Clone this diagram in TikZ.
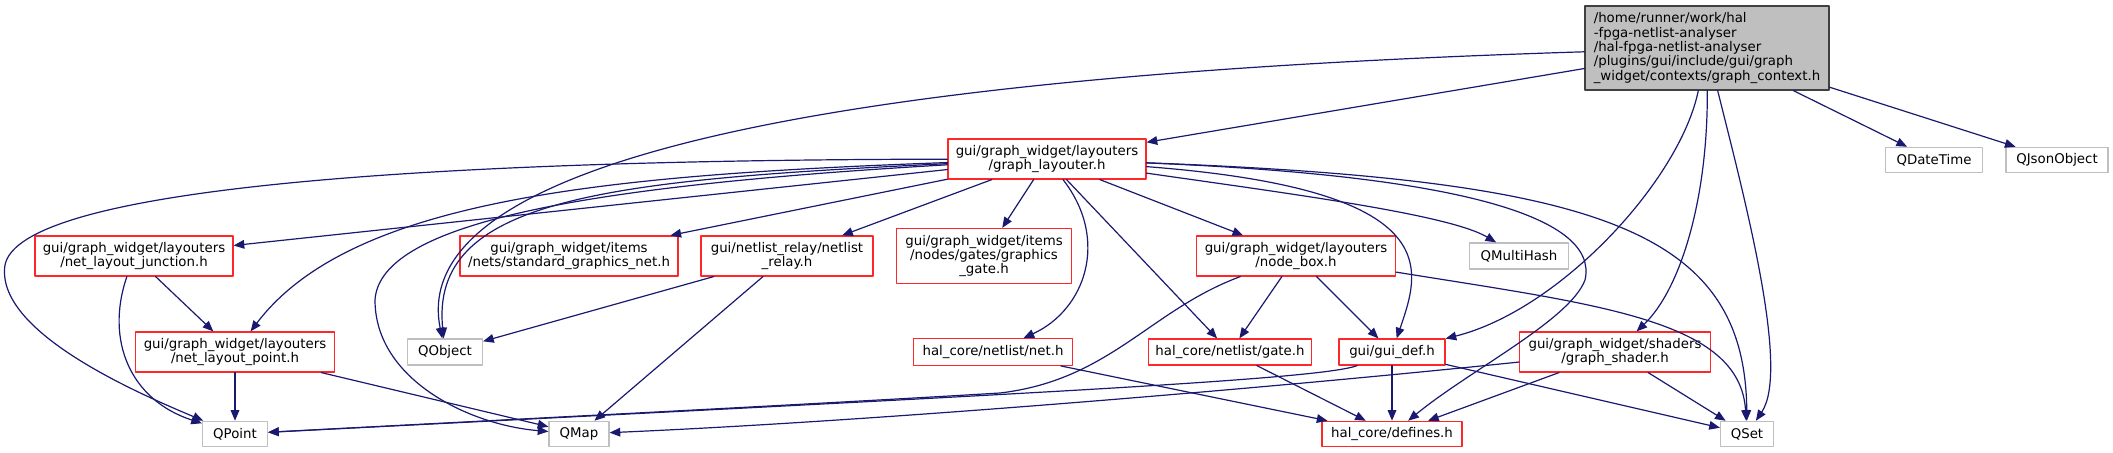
\documentclass[tikz,border=0pt]{standalone}
\usepackage{fontspec}
\setmainfont{DejaVu Sans}
\usetikzlibrary{arrows.meta}
\definecolor{Edge}{RGB}{25,25,112}
\definecolor{Hline}{RGB}{255,40,40}
\definecolor{Qline}{RGB}{191,191,191}
\definecolor{Mfill}{RGB}{191,191,191}
\definecolor{Mline}{RGB}{64,64,64}

\begin{document}
\begin{tikzpicture}[x=0.75pt,y=-0.75pt,line cap=round,line join=round,
  box/.style={rectangle,draw,fill=white,line width=0.9pt,inner sep=0pt,align=center,font=\fontsize{10}{10.8}\selectfont},
  hdr/.style={box,draw=Hline,minimum height=30pt},
  ext/.style={box,draw=Qline,minimum height=19pt},
  dep/.style={draw=Edge,line width=0.9pt,-{Triangle[length=8pt,width=6.5pt]}}]
\path[use as bounding box] (0,0) rectangle (2113,453);
\node[box,fill=Mfill,draw=Mline,align=left,minimum width=183pt,minimum height=63pt] (ctx) at (1707,48) {/home/runner/work/hal\\-fpga-netlist-analyser\\/hal-fpga-netlist-analyser\\/plugins/gui/include/gui/graph\\\_widget/contexts/graph\_context.h};
\node[hdr,minimum width=148.5pt] (layouter) at (1047,159) {gui/graph\_widget/layouters\\/graph\_layouter.h};
\node[ext,minimum width=72.75pt] (qdatetime) at (1934,160) {QDateTime};
\node[ext,minimum width=76.5pt] (qjson) at (2057,160) {QJsonObject};
\node[hdr,minimum width=148.5pt] (junction) at (134,256) {gui/graph\_widget/layouters\\/net\_layout\_junction.h};
\node[hdr,minimum width=163.5pt] (stdnet) at (569,256) {gui/graph\_widget/items\\/nets/standard\_graphics\_net.h};
\node[hdr,minimum width=129pt] (relay) at (787,256) {gui/netlist\_relay/netlist\\\_relay.h};
\node[hdr,minimum width=131.25pt,minimum height=41.25pt] (gfxgate) at (984,256) {gui/graph\_widget/items\\/nodes/gates/graphics\\\_gate.h};
\node[hdr,minimum width=149.25pt] (nodebox) at (1296,256) {gui/graph\_widget/layouters\\/node\_box.h};
\node[ext,minimum width=74.25pt,minimum height=19.5pt] (qmultihash) at (1519,256) {QMultiHash};
\node[hdr,minimum width=149.25pt] (point) at (235,352) {gui/graph\_widget/layouters\\/net\_layout\_point.h};
\node[ext,minimum width=56.25pt,minimum height=19.5pt] (qobject) at (445,352) {QObject};
\node[hdr,minimum width=119.25pt,minimum height=20pt] (neth) at (993,352) {hal\_core/netlist/net.h};
\node[hdr,minimum width=122.25pt,minimum height=19.5pt] (gateh) at (1230,352) {hal\_core/netlist/gate.h};
\node[hdr,minimum width=79.5pt,minimum height=19.5pt] (guidef) at (1392,352) {gui/gui\_def.h};
\node[hdr,minimum width=143.25pt] (shader) at (1615,352) {gui/graph\_widget/shaders\\/graph\_shader.h};
\node[ext,minimum width=48.75pt] (qpoint) at (235,434) {QPoint};
\node[ext,minimum width=45pt] (qmap) at (579,434) {QMap};
\node[hdr,minimum width=105pt,minimum height=19pt] (defines) at (1392,434) {hal\_core/defines.h};
\node[ext,minimum width=39.75pt] (qset) at (1747,434) {QSet};
\draw[dep] (ctx) -- (layouter);
\draw[dep] (ctx) .. controls (1000,70) and (400,130) .. (qobject);
\draw[dep] (ctx) -- (qdatetime);
\draw[dep] (ctx) -- (qjson);
\draw[dep] (ctx) .. controls (1680,180) and (1560,310) .. (guidef);
\draw[dep] (ctx) .. controls (1708,200) and (1680,290) .. (shader);
\draw[dep] (ctx) .. controls (1745,200) and (1790,370) .. (qset);
\draw[dep] (layouter) -- (junction);
\draw[dep] (layouter) .. controls (600,175) and (350,200) .. (point);
\draw[dep] (layouter) .. controls (400,160) and (20,190) .. (5,265) .. controls (-5,330) and (130,390) .. (qpoint);
\draw[dep] (layouter) -- (stdnet);
\draw[dep] (layouter) .. controls (600,180) and (430,200) .. (qobject);
\draw[dep] (layouter) .. controls (600,185) and (380,220) .. (375,300) .. controls (375,380) and (470,425) .. (qmap);
\draw[dep] (layouter) -- (relay);
\draw[dep] (layouter) -- (gfxgate);
\draw[dep] (layouter) .. controls (1110,240) and (1085,310) .. (neth);
\draw[dep] (layouter) -- (gateh);
\draw[dep] (layouter) -- (nodebox);
\draw[dep] (layouter) .. controls (1450,190) and (1420,270) .. (guidef);
\draw[dep] (layouter) .. controls (1300,195) and (1450,215) .. (qmultihash);
\draw[dep] (layouter) .. controls (1450,175) and (1600,215) .. (1585,280) .. controls (1570,320) and (1470,370) .. (defines);
\draw[dep] (layouter) .. controls (1600,180) and (1745,230) .. (qset);
\draw[dep] (junction) -- (point);
\draw[dep] (junction) .. controls (105,340) and (130,400) .. (qpoint);
\draw[dep] (point) -- (qpoint);
\draw[dep] (point) -- (qmap);
\draw[dep] (relay) -- (qobject);
\draw[dep] (relay) -- (qmap);
\draw[dep] (nodebox) .. controls (1150,310) and (1110,380) .. (1000,393) .. controls (800,405) and (500,420) .. (qpoint);
\draw[dep] (nodebox) -- (gateh);
\draw[dep] (nodebox) -- (guidef);
\draw[dep] (nodebox) .. controls (1600,305) and (1740,320) .. (qset);
\draw[dep] (neth) -- (defines);
\draw[dep] (gateh) -- (defines);
\draw[dep] (guidef) .. controls (1320,380) and (1000,395) .. (qpoint);
\draw[dep] (guidef) -- (defines);
\draw[dep] (guidef) -- (qset);
\draw[dep] (shader) .. controls (1300,385) and (900,420) .. (qmap);
\draw[dep] (shader) -- (defines);
\draw[dep] (shader) -- (qset);
\end{tikzpicture}
\end{document}
